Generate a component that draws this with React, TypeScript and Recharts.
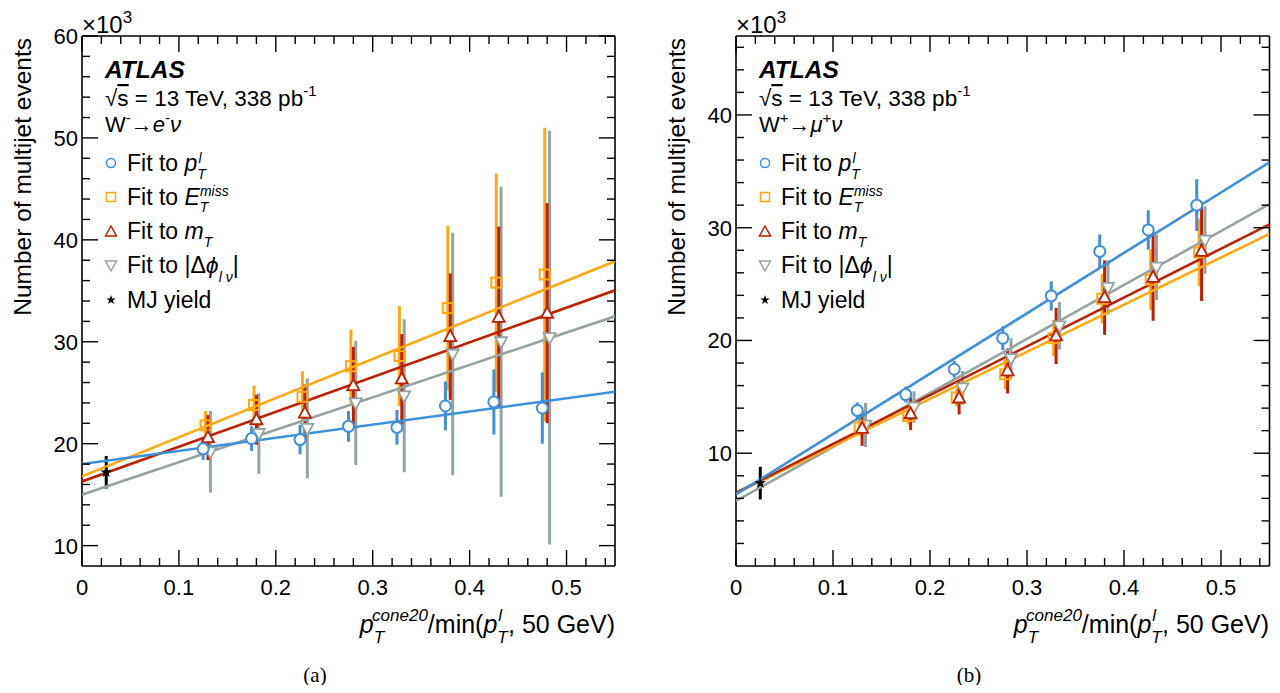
import React from 'react';
import { ComposedChart, Scatter, XAxis, YAxis, ErrorBar } from 'recharts';

const BLUE = '#3f90da';
const ORANGE = '#ffa90e';
const RED = '#bd1f01';
const GRAY = '#94a4a2';
const FONT = '"Liberation Sans", Arial, sans-serif';

// ---------- (a) W- -> e- nu ----------
const aPtX = [0.125, 0.175, 0.225, 0.275, 0.325, 0.375, 0.425, 0.475];
const aPtY = [19.5, 20.5, 20.4, 21.7, 21.6, 23.7, 24.1, 23.5];
const aPtErr = [1.1, 1.2, 1.45, 1.5, 1.7, 2.4, 3.2, 3.5];

const aMetX = [0.1275, 0.1775, 0.2275, 0.2775, 0.3275, 0.3775, 0.4275, 0.4775];
const aMetY = [21.8, 23.8, 24.6, 27.6, 28.6, 33.3, 35.8, 36.6];
const aMetErr = [1.4, 1.9, 2.5, 3.6, 4.9, 8.1, 10.7, 14.4];

const aMtX = [0.13, 0.18, 0.23, 0.28, 0.33, 0.38, 0.43, 0.48];
const aMtY = [20.6, 22.35, 23.0, 25.7, 26.35, 30.5, 32.4, 32.8];
const aMtErr = [2.2, 2.45, 2.8, 3.8, 4.4, 6.2, 8.9, 10.8];

const aDphiX = [0.1325, 0.1825, 0.2325, 0.2825, 0.3325, 0.3825, 0.4325, 0.4825];
const aDphiY = [19.2, 21.0, 21.5, 24.0, 24.7, 28.8, 30.0, 30.4];
const aDphiErr = [4.0, 3.95, 4.9, 6.1, 7.5, 11.9, 15.2, 20.3];

const aMjX = [0.025];
const aMjY = [17.2];
const aMjErr = [1.6];

const fitX = [0, 0.55];
const aFitPt = [18.0, 25.1];
const aFitMet = [16.8, 37.9];
const aFitMt = [16.3, 35.05];
const aFitDphi = [15.0, 32.5];

// ---------- (b) W+ -> mu+ nu ----------
const bPtX = [0.125, 0.175, 0.225, 0.275, 0.325, 0.375, 0.425, 0.475];
const bPtY = [13.8, 15.2, 17.45, 20.2, 23.95, 27.9, 29.8, 32.0];
const bPtErr = [0.7, 0.7, 0.75, 1.05, 1.3, 1.5, 1.75, 2.3];

const bMetX = [0.1275, 0.1775, 0.2275, 0.2775, 0.3275, 0.3775, 0.4275, 0.4775];
const bMetY = [12.3, 13.3, 14.95, 17.0, 20.2, 23.7, 25.4, 27.8];
const bMetErr = [0.75, 0.75, 0.8, 1.3, 1.6, 2.2, 2.7, 3.0];

const bMtX = [0.13, 0.18, 0.23, 0.28, 0.33, 0.38, 0.43, 0.48];
const bMtY = [12.2, 13.5, 14.9, 17.3, 20.4, 23.8, 25.6, 27.9];
const bMtErr = [1.55, 1.45, 1.45, 2.0, 2.5, 3.3, 3.85, 4.4];

const bDphiX = [0.1335, 0.1835, 0.2335, 0.2835, 0.3335, 0.3835, 0.4335, 0.4835];
const bDphiY = [12.5, 14.1, 15.8, 18.4, 21.3, 24.7, 26.5, 28.9];
const bDphiErr = [1.95, 1.4, 1.5, 1.8, 2.1, 2.4, 2.9, 3.0];

const bMjX = [0.025];
const bMjY = [7.35];
const bMjErr = [1.45];

const bFitPt = [6.35, 35.8];
const bFitMet = [6.45, 29.45];
const bFitMt = [6.5, 30.3];
const bFitDphi = [5.77, 32.1];

// ---------- axes ----------
const xTicks = [0, 0.02, 0.04, 0.06, 0.08, 0.1, 0.12, 0.14, 0.16, 0.18, 0.2, 0.22, 0.24, 0.26, 0.28,
  0.3, 0.32, 0.34, 0.36, 0.38, 0.4, 0.42, 0.44, 0.46, 0.48, 0.5, 0.52, 0.54];
const aYTicks = [10, 12, 14, 16, 18, 20, 22, 24, 26, 28, 30, 32, 34, 36, 38, 40, 42, 44, 46, 48, 50,
  52, 54, 56, 58, 60];
const bYTicks = [2, 4, 6, 8, 10, 12, 14, 16, 18, 20, 22, 24, 26, 28, 30, 32, 34, 36, 38, 40, 42, 44, 46];

const rows = (xs: number[], ys: number[], es: number[]) =>
  xs.map((x, i) => ({ x, y: ys[i], err: es[i] }));
const fitRows = (ys: number[]) => fitX.map((x, i) => ({ x, y: ys[i] }));

const isMajorX = (v: number) => Math.abs(v * 10 - Math.round(v * 10)) < 1e-6;
const isMajorY = (v: number) => v % 10 === 0;

const BottomTick = (p: any) => {
  const v = p.payload.value;
  const major = isMajorX(v);
  return (
    <g>
      <line x1={p.x} x2={p.x} y1={p.y} y2={p.y - (major ? 16 : 8)} stroke="#000" strokeWidth={1.4} />
      {major && (
        <text x={p.x} y={p.y + 29} textAnchor="middle" fontSize={22} fontFamily={FONT} fill="#000">
          {v === 0 ? '0' : v.toFixed(1)}
        </text>
      )}
    </g>
  );
};
const TopTick = (p: any) => {
  const major = isMajorX(p.payload.value);
  return <line x1={p.x} x2={p.x} y1={p.y} y2={p.y + (major ? 16 : 8)} stroke="#000" strokeWidth={1.4} />;
};
const LeftTick = (p: any) => {
  const v = p.payload.value;
  const major = isMajorY(v);
  return (
    <g>
      <line x1={p.x} x2={p.x + (major ? 16 : 8)} y1={p.y} y2={p.y} stroke="#000" strokeWidth={1.4} />
      {major && (
        <text x={p.x - 4} y={p.y + 8} textAnchor="end" fontSize={22} fontFamily={FONT} fill="#000">
          {v}
        </text>
      )}
    </g>
  );
};
const RightTick = (p: any) => {
  const major = isMajorY(p.payload.value);
  return <line x1={p.x} x2={p.x - (major ? 16 : 8)} y1={p.y} y2={p.y} stroke="#000" strokeWidth={1.4} />;
};

// ---------- markers ----------
const circleShape = (p: any) => (
  <circle cx={p.cx} cy={p.cy} r={5.5} fill="#fff" stroke={BLUE} strokeWidth={2} />
);
const squareShape = (p: any) => (
  <rect x={p.cx - 5} y={p.cy - 5} width={10} height={10} fill="none" stroke={ORANGE} strokeWidth={2} />
);
const triUpShape = (p: any) => (
  <polygon points={`${p.cx},${p.cy - 6.5} ${p.cx - 6},${p.cy + 4.5} ${p.cx + 6},${p.cy + 4.5}`}
    fill="#fff" stroke={RED} strokeWidth={1.8} />
);
const triDownShape = (p: any) => (
  <polygon points={`${p.cx},${p.cy + 6.5} ${p.cx - 6},${p.cy - 4.5} ${p.cx + 6},${p.cy - 4.5}`}
    fill="#fff" stroke={GRAY} strokeWidth={1.8} />
);
const starPts = (cx: number, cy: number, r: number) => {
  const pts: string[] = [];
  for (let i = 0; i < 10; i++) {
    const a = -Math.PI / 2 + (i * Math.PI) / 5;
    const rr = i % 2 === 0 ? r : r * 0.4;
    pts.push(`${cx + rr * Math.cos(a)},${cy + rr * Math.sin(a)}`);
  }
  return pts.join(' ');
};
const starShape = (p: any) => <polygon points={starPts(p.cx, p.cy, 6)} fill="#000" />;
const noShape = () => <g />;

type PanelProps = {
  left: number;
  marginLeft: number;
  marginRight: number;
  yDomain: [number, number];
  yTicks: number[];
  pt: any[]; met: any[]; mt: any[]; dphi: any[]; mj: any[];
  fPt: number[]; fMet: number[]; fMt: number[]; fDphi: number[];
};

// axes get a 1px thickness (0 would make recharts skip them), margins are reduced by 1 to compensate
const Panel = (pp: PanelProps) => {
  const ax = { xAxisId: 'b', yAxisId: 'l' };
  const axisLine = { stroke: '#000', strokeWidth: 1.6 };
  const fit = (ys: number[], color: string, key: string) => (
    <Scatter key={key} {...ax} data={fitRows(ys)} dataKey="y" shape={noShape}
      line={{ stroke: color, strokeWidth: 2.6 }} lineType="joint" isAnimationActive={false} />
  );
  const series = (data: any[], color: string, shape: any, key: string) => (
    <Scatter key={key} {...ax} data={data} dataKey="y" shape={shape} isAnimationActive={false}>
      <ErrorBar dataKey="err" direction="y" width={0} stroke={color} strokeWidth={3} />
    </Scatter>
  );
  return (
    <div style={{ position: 'absolute', left: pp.left, top: 0 }}>
      <ComposedChart width={640} height={693}
        margin={{ top: 35, left: pp.marginLeft - 1, right: pp.marginRight - 1, bottom: 126 }}>
        <XAxis xAxisId="b" dataKey="x" type="number" domain={[0, 0.55]} ticks={xTicks} interval={0}
          tick={BottomTick} tickLine={false} tickSize={0} tickMargin={0} height={1}
          axisLine={axisLine} allowDataOverflow />
        <XAxis xAxisId="t" orientation="top" dataKey="x" type="number" domain={[0, 0.55]} ticks={xTicks}
          interval={0} tick={TopTick} tickLine={false} tickSize={0} tickMargin={0} height={1}
          axisLine={axisLine} allowDataOverflow />
        <YAxis yAxisId="l" type="number" domain={pp.yDomain} ticks={pp.yTicks} interval={0}
          tick={LeftTick} tickLine={false} tickSize={0} tickMargin={0} width={1}
          axisLine={axisLine} allowDataOverflow />
        <YAxis yAxisId="r" orientation="right" type="number" domain={pp.yDomain} ticks={pp.yTicks}
          interval={0} tick={RightTick} tickLine={false} tickSize={0} tickMargin={0} width={1}
          axisLine={axisLine} allowDataOverflow />
        {fit(pp.fDphi, GRAY, 'f4')}
        {fit(pp.fMet, ORANGE, 'f2')}
        {fit(pp.fMt, RED, 'f3')}
        {fit(pp.fPt, BLUE, 'f1')}
        {series(pp.dphi, GRAY, triDownShape, 's4')}
        {series(pp.met, ORANGE, squareShape, 's2')}
        {series(pp.mt, RED, triUpShape, 's3')}
        {series(pp.pt, BLUE, circleShape, 's1')}
        {series(pp.mj, '#000', starShape, 's5')}
      </ComposedChart>
    </div>
  );
};

const TXT = 23;
const SUB = 14;

const Texts = ({ ox, right, caption }: { ox: number; right: boolean; caption: string }) => {
  const lx = ox + 127;
  const mx = ox + 111;
  return (
    <g fontFamily={FONT} fill="#000">
      <text x={ox + 82} y={33} fontSize={24}>
        {'\u00d710'}
        <tspan fontSize={17} dy={-10}>3</tspan>
      </text>
      <text x={ox + 105} y={78} fontSize={24.5} fontWeight="bold" fontStyle="italic">ATLAS</text>
      <text x={ox + 105} y={106} fontSize={22.5}>
        {'\u221a'}
        <tspan style={{ textDecoration: 'overline' }}>s</tspan>
        {' = 13 TeV, 338 pb'}
        <tspan fontSize={15} dy={-10}>-1</tspan>
      </text>
      {right ? (
        <text x={ox + 105} y={132} fontSize={22}>
          W<tspan fontSize={15} dy={-9}>+</tspan>
          <tspan dy={9}>{'\u2192'}</tspan>
          <tspan fontStyle="italic">{'\u03bc'}</tspan>
          <tspan fontSize={15} dy={-9}>+</tspan>
          <tspan fontStyle="italic" dy={9}>{'\u03bd'}</tspan>
        </text>
      ) : (
        <text x={ox + 105} y={132} fontSize={22}>
          W<tspan fontSize={15} dy={-9}>-</tspan>
          <tspan dy={9}>{'\u2192'}</tspan>
          <tspan fontStyle="italic">e</tspan>
          <tspan fontSize={15} dy={-9}>-</tspan>
          <tspan fontStyle="italic" dy={9}>{'\u03bd'}</tspan>
        </text>
      )}

      {/* legend */}
      <circle cx={mx} cy={163} r={4.5} fill="#fff" stroke={BLUE} strokeWidth={1.5} />
      <text x={lx} y={171} fontSize={TXT}>
        {'Fit to '}
        <tspan fontStyle="italic">p</tspan>
        <tspan fontSize={SUB} fontStyle="italic" dy={8}>T</tspan>
        <tspan fontSize={SUB} fontStyle="italic" dx={-7.5} dy={-16}>l</tspan>
      </text>
      <rect x={mx - 4.5} y={192.5} width={9} height={9} fill="none" stroke={ORANGE} strokeWidth={1.5} />
      <text x={lx} y={205} fontSize={TXT}>
        {'Fit to '}
        <tspan fontStyle="italic">E</tspan>
        <tspan fontSize={SUB} fontStyle="italic" dy={7}>T</tspan>
        <tspan fontSize={SUB} fontStyle="italic" dx={-8.5} dy={-16}>miss</tspan>
      </text>
      <polygon points={`${mx},${226} ${mx - 5.5},${236} ${mx + 5.5},${236}`} fill="#fff" stroke={RED} strokeWidth={1.5} />
      <text x={lx} y={239} fontSize={TXT}>
        {'Fit to '}
        <tspan fontStyle="italic">m</tspan>
        <tspan fontSize={SUB} fontStyle="italic" dy={8}>T</tspan>
      </text>
      <polygon points={`${mx},${271} ${mx - 5.5},${261} ${mx + 5.5},${261}`} fill="#fff" stroke={GRAY} strokeWidth={1.5} />
      <text x={lx} y={273} fontSize={TXT}>
        {'Fit to |\u0394'}
        <tspan fontStyle="italic">{'\u03d5'}</tspan>
        <tspan fontSize={SUB} fontStyle="italic" dy={9}>{'l \u03bd'}</tspan>
        <tspan dy={-9}>|</tspan>
      </text>
      <polygon points={starPts(mx, 300, 5)} fill="#000" />
      <text x={lx} y={308} fontSize={TXT}>MJ yield</text>

      {/* axis titles */}
      <text transform="rotate(-90)" x={-38} y={ox + 31} textAnchor="end" fontSize={24.5}>
        Number of multijet events
      </text>
      <text x={ox + 615} y={633} textAnchor="end" fontSize={25}>
        <tspan fontStyle="italic">p</tspan>
        <tspan fontSize={17} fontStyle="italic" dy={10}>T</tspan>
        <tspan fontSize={17} fontStyle="italic" dx={-10.4} dy={-22}>cone20</tspan>
        <tspan dy={12}>/min(</tspan>
        <tspan fontStyle="italic">p</tspan>
        <tspan fontSize={17} fontStyle="italic" dy={10}>T</tspan>
        <tspan fontSize={17} fontStyle="italic" dx={-9.5} dy={-22}>l</tspan>
        <tspan dx={6} dy={12}>, 50 GeV)</tspan>
      </text>
      <text x={ox + 315} y={682} textAnchor="middle" fontSize={21}
        fontFamily='"Liberation Serif", "Times New Roman", serif'>{caption}</text>
    </g>
  );
};

export default function App() {
  return (
    <div style={{ position: 'relative', width: 1280, height: 693, margin: -8, background: '#fff', overflow: 'hidden' }}>
      <Panel left={0} marginLeft={82} marginRight={25} yDomain={[8, 60]} yTicks={aYTicks}
        pt={rows(aPtX, aPtY, aPtErr)} met={rows(aMetX, aMetY, aMetErr)} mt={rows(aMtX, aMtY, aMtErr)}
        dphi={rows(aDphiX, aDphiY, aDphiErr)} mj={rows(aMjX, aMjY, aMjErr)}
        fPt={aFitPt} fMet={aFitMet} fMt={aFitMt} fDphi={aFitDphi} />
      <Panel left={640} marginLeft={96} marginRight={10.5} yDomain={[0, 47]} yTicks={bYTicks}
        pt={rows(bPtX, bPtY, bPtErr)} met={rows(bMetX, bMetY, bMetErr)} mt={rows(bMtX, bMtY, bMtErr)}
        dphi={rows(bDphiX, bDphiY, bDphiErr)} mj={rows(bMjX, bMjY, bMjErr)}
        fPt={bFitPt} fMet={bFitMet} fMt={bFitMt} fDphi={bFitDphi} />
      <svg width={1280} height={693} style={{ position: 'absolute', left: 0, top: 0, pointerEvents: 'none' }}>
        <Texts ox={0} right={false} caption="(a)" />
        <Texts ox={654} right={true} caption="(b)" />
      </svg>
    </div>
  );
}
